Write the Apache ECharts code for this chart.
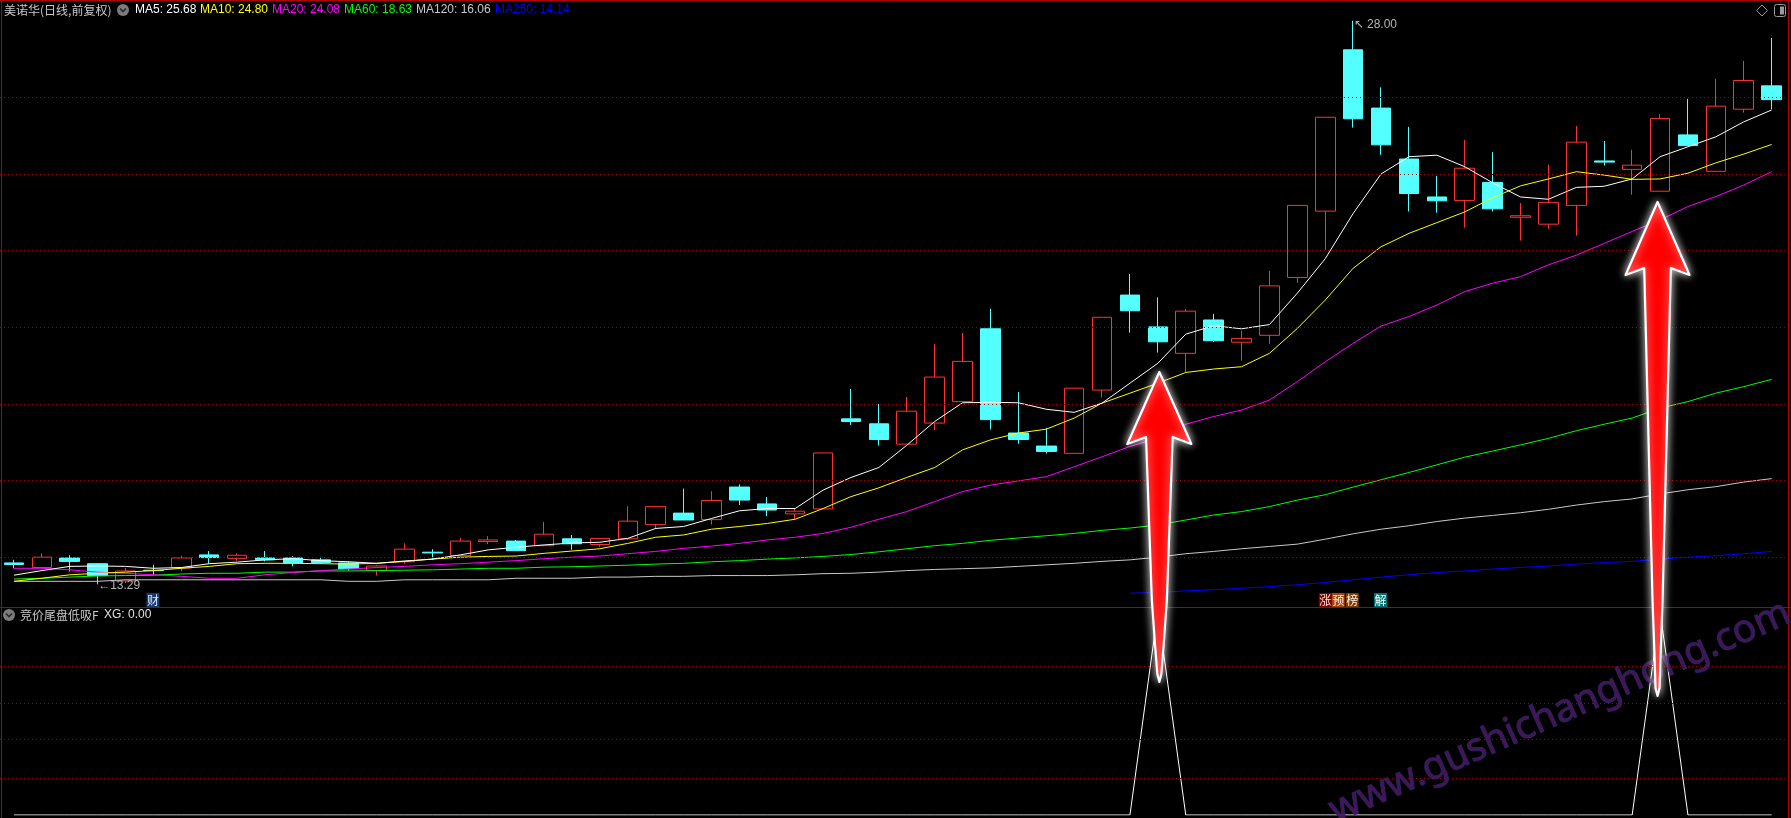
<!DOCTYPE html>
<html><head><meta charset="utf-8">
<script src="https://cdn.jsdelivr.net/npm/echarts@6/dist/echarts.min.js"></script>
<style>html,body{margin:0;padding:0;background:#000;overflow:hidden}#c{width:1791px;height:818px}</style>
</head><body><div id="c"></div>
<script>
// ---------- data ----------
const opens  = [13.85,13.73,13.98,13.83,13.38,13.66,13.72,14.06,13.97,13.98,13.98,13.93,13.85,13.65,13.88,14.13,
                14.04,14.41,14.42,14.30,14.48,14.33,14.48,14.85,15.15,14.98,15.83,15.39,15.13,15.26,17.61,17.48,
                16.95,17.50,18.06,19.96,17.24,16.90,16.71,18.36,20.84,20.01,19.32,20.19,19.61,19.79,21.30,23.03,
                27.24,25.72,24.39,23.40,23.31,23.78,22.87,22.69,23.18,24.34,24.12,23.55,25.02,24.07,25.69,26.30];
const closes = [13.81,14.00,13.89,13.52,13.64,13.65,13.98,13.99,14.05,13.93,13.85,13.86,13.70,13.77,14.21,14.11,
                14.42,14.45,14.17,14.60,14.35,14.49,14.94,15.32,14.97,15.48,15.49,15.23,15.20,16.72,17.54,17.07,
                17.81,18.70,19.11,17.59,17.07,16.76,18.41,20.26,20.43,19.62,20.42,19.65,19.71,21.08,23.18,25.48,
                25.44,24.76,23.49,23.30,24.15,23.09,22.91,23.26,24.83,24.31,24.23,25.45,24.74,25.77,26.44,25.94];
const lows   = [13.71,13.71,13.63,13.29,13.32,13.54,13.63,13.83,13.91,13.89,13.76,13.83,13.65,13.52,13.83,13.93,
                14.02,14.34,14.16,14.29,14.19,14.27,14.45,14.73,14.97,14.85,15.36,15.07,15.00,15.26,17.45,16.91,
                16.95,17.32,18.06,17.33,16.96,16.70,16.71,18.17,19.86,19.34,18.83,19.62,19.13,19.57,21.16,22.02,
                25.21,24.50,23.02,22.99,22.60,23.02,22.26,22.57,22.39,24.22,23.46,23.55,24.74,24.07,25.60,25.69];
const highs  = [13.93,14.10,14.05,13.85,13.72,13.80,14.04,14.16,14.10,14.16,14.03,14.01,13.89,13.80,14.36,14.21,
                14.50,14.55,14.45,14.92,14.58,14.49,15.33,15.32,15.79,15.72,15.90,15.57,15.27,16.72,18.39,18.00,
                18.18,19.56,19.85,20.48,18.31,17.37,18.41,20.26,21.39,20.78,20.47,20.35,19.91,21.47,23.18,25.48,
                28.00,26.26,25.23,23.95,24.89,24.57,23.24,24.24,25.25,24.86,24.63,25.56,25.96,26.48,26.95,27.55];

const ma5   = [13.53,13.65,13.76,13.77,13.76,13.71,13.73,13.83,13.87,13.93,13.96,13.91,13.88,13.84,13.90,13.95,
               14.06,14.19,14.26,14.32,14.37,14.39,14.49,14.75,14.80,15.01,15.21,15.27,15.27,15.75,16.08,16.34,
               16.92,17.54,18.03,18.04,18.03,17.86,17.78,18.02,18.54,19.06,19.82,20.04,19.96,20.07,20.89,21.79,
               22.97,24.00,24.45,24.49,24.19,23.77,23.40,23.34,23.65,23.68,23.87,24.45,24.71,24.97,25.36,25.67];
const ma10  = [13.37,13.45,13.54,13.58,13.61,13.65,13.71,13.76,13.83,13.84,13.84,13.83,13.82,13.84,13.89,13.95,
               14.00,14.02,14.03,14.10,14.16,14.22,14.36,14.52,14.58,14.73,14.80,14.88,14.99,15.27,15.58,15.81,
               16.08,16.34,16.80,17.06,17.24,17.34,17.63,18.02,18.28,18.54,18.82,18.91,18.97,19.32,19.97,20.71,
               21.54,22.10,22.45,22.73,23.01,23.38,23.69,23.87,24.06,23.97,23.86,23.87,24.02,24.29,24.52,24.77];
const ma20  = [13.71,13.71,13.67,13.61,13.58,13.54,13.50,13.45,13.45,13.54,13.60,13.65,13.69,13.73,13.76,13.80,
               13.83,13.87,13.91,13.96,14.00,14.03,14.09,14.15,14.23,14.29,14.36,14.45,14.52,14.62,14.78,14.99,
               15.19,15.45,15.71,15.88,15.99,16.10,16.36,16.62,16.89,17.10,17.47,17.67,17.84,18.10,18.58,19.10,
               19.58,20.03,20.28,20.58,20.93,21.15,21.32,21.63,21.88,22.19,22.50,22.80,23.15,23.41,23.71,24.06];
const ma60  = [13.43,13.45,13.48,13.51,13.52,13.53,13.56,13.58,13.58,13.61,13.61,13.64,13.64,13.65,13.66,13.67,
               13.69,13.71,13.71,13.74,13.75,13.77,13.79,13.82,13.84,13.88,13.91,13.95,13.98,14.02,14.07,14.14,
               14.22,14.30,14.36,14.44,14.50,14.56,14.62,14.70,14.76,14.84,14.97,15.10,15.19,15.32,15.49,15.63,
               15.83,16.02,16.21,16.41,16.61,16.77,16.93,17.10,17.30,17.47,17.63,17.89,18.06,18.28,18.45,18.64];
const ma120 = [13.37,13.37,13.37,13.37,13.41,13.41,13.41,13.41,13.41,13.41,13.41,13.41,13.37,13.37,13.41,13.41,
               13.41,13.41,13.45,13.45,13.45,13.48,13.48,13.50,13.50,13.52,13.52,13.52,13.54,13.57,13.58,13.61,
               13.65,13.68,13.70,13.72,13.76,13.80,13.84,13.89,13.93,14.00,14.09,14.15,14.22,14.28,14.34,14.47,
               14.61,14.73,14.82,14.93,15.02,15.09,15.16,15.25,15.36,15.45,15.52,15.65,15.76,15.84,15.96,16.05];
const ma250 = ['-','-','-','-','-','-','-','-','-','-','-','-','-','-','-','-',
               '-','-','-','-','-','-','-','-','-','-','-','-','-','-','-','-',
               '-','-','-','-','-','-','-','-',13.06,13.08,13.12,13.15,13.19,13.23,13.28,13.34,
               13.41,13.48,13.54,13.60,13.64,13.69,13.73,13.77,13.82,13.86,13.89,13.95,14.00,14.04,14.09,14.15];
const xg    = [0,0,0,0,0,0,0,0,0,0,0,0,0,0,0,0, 0,0,0,0,0,0,0,0,0,0,0,0,0,0,0,0,
               0,0,0,0,0,0,0,0,0,1,0,0,0,0,0,0, 0,0,0,0,0,0,0,0,0,0,0,1,0,0,0,0];

const priceGridLevels = [14,16,18,20,22,24,26];
const subGridLevels   = [0.18,0.366,0.553,0.734];
const lowMark  = {idx:3,  value:13.29};
const highMark = {idx:48, value:28.00};
const legendItems = [
  {text:'MA5: 25.68',   color:'#ffffff'},
  {text:'MA10: 24.80',  color:'#ffff00'},
  {text:'MA20: 24.08',  color:'#ff00ff'},
  {text:'MA60: 18.63',  color:'#00ff00'},
  {text:'MA120: 16.06', color:'#c8c8c8'},
  {text:'MA250: 14.14', color:'#0000ff'}
];
const categories = opens.map((_, i) => 'D' + (i + 1));
const signalIdx = [41, 59];

// ---------- chart ----------
const NUM = '"Liberation Sans", Arial, sans-serif';
const CJK = '"Noto Sans CJK SC", sans-serif';
const chart = echarts.init(document.getElementById('c'), null, {renderer:'canvas'});

function maSeries(data, color) {
  return {type:'line', data, xAxisIndex:0, yAxisIndex:0, symbol:'none', silent:true, z:3,
          lineStyle:{color, width:1}, connectNulls:false, animation:false};
}

const option = {
  backgroundColor:'#000000',
  animation:false,
  grid:[{left:0, right:5.4, top:0, height:607}, {left:0, right:5.4, top:607, height:208}],
  xAxis:[
    {type:'category', data:categories, gridIndex:0, show:false, boundaryGap:true},
    {type:'category', data:categories, gridIndex:1, show:false, boundaryGap:true}
  ],
  yAxis:[
    {type:'value', gridIndex:0, min:12.70, max:28.54, show:false, splitLine:{show:false}},
    {type:'value', gridIndex:1, min:0, max:1.02, show:false, splitLine:{show:false}}
  ],
  series:[
    {
      type:'candlestick', xAxisIndex:0, yAxisIndex:0, z:2, silent:true,
      data: opens.map((o, i) => [o, closes[i], lows[i], highs[i]]),
      barWidth:20,
      itemStyle:{color:'#000000', color0:'#54ffff', borderColor:'#ff3232', borderColor0:'#54ffff', borderWidth:1},
      markLine:{silent:true, symbol:['none','none'], animation:false, label:{show:false},
        lineStyle:{color:'#a00000', type:[1,3], width:1},
        data: priceGridLevels.map(v => ({yAxis:v}))},
      markPoint:{silent:true, animation:false, symbol:'circle', symbolSize:1,
        itemStyle:{color:'rgba(0,0,0,0)'},
        data:[
          {coord:[lowMark.idx, lowMark.value], label:{show:true, position:'right', distance:0, offset:[0,1],
            formatter:'\u2190' + lowMark.value.toFixed(2), color:'#b4b4b4', fontSize:12, fontFamily:NUM}},
          {coord:[highMark.idx, highMark.value], label:{show:true, position:'right', distance:0, offset:[0,4],
            formatter:'\u2196 ' + highMark.value.toFixed(2), color:'#b4b4b4', fontSize:12, fontFamily:NUM}}
        ]}
    },
    maSeries(ma120, '#c8c8c8'),
    maSeries(ma250, '#0000ff'),
    maSeries(ma60, '#00ff00'),
    maSeries(ma20, '#ff00ff'),
    maSeries(ma10, '#ffff00'),
    maSeries(ma5, '#ffffff'),
    {
      type:'line', data:xg, xAxisIndex:1, yAxisIndex:1, symbol:'none', silent:true, z:3,
      lineStyle:{color:'#ffffff', width:1},
      markLine:{silent:true, symbol:['none','none'], animation:false, label:{show:false},
        lineStyle:{color:'#a00000', type:[1,3], width:1},
        data: subGridLevels.map(v => ({yAxis:v}))}
    }
  ]
};
chart.setOption(option);

// ---------- decorations ----------
const px = k => chart.convertToPixel({xAxisIndex:0}, categories[k]);
const g = [];
// frame
const frameColor = '#b00000';
g.push({type:'line', shape:{x1:0, y1:0.5, x2:1791, y2:0.5}, style:{stroke:frameColor, lineWidth:1}, z:50});
g.push({type:'line', shape:{x1:1.5, y1:0, x2:1.5, y2:818}, style:{stroke:frameColor, lineWidth:1}, z:50});
g.push({type:'line', shape:{x1:1788.5, y1:0, x2:1788.5, y2:818}, style:{stroke:frameColor, lineWidth:1}, z:50});
g.push({type:'line', shape:{x1:0, y1:607.5, x2:1791, y2:607.5}, style:{stroke:frameColor, lineWidth:1}, z:50});

// title & legend
g.push({type:'text', x:4, y:10, style:{text:'美诺华(日线,前复权)', fill:'#c8c8c8', font:'12px ' + CJK, textVerticalAlign:'middle'}, z:60});
function circleIcon(cx, cy) {
  g.push({type:'circle', shape:{cx, cy, r:6}, style:{fill:'#7c7c7c'}, z:60});
  g.push({type:'polyline', shape:{points:[[cx-3, cy-1.5],[cx, cy+1.5],[cx+3, cy-1.5]]}, style:{stroke:'#2a2a2a', lineWidth:1.6, fill:null}, z:61});
}
circleIcon(123, 10);
const legendX = [135, 200, 272, 344, 416, 495];
legendItems.forEach((it, i) => {
  g.push({type:'text', x:legendX[i], y:10, style:{text:it.text, fill:it.color, font:'12px ' + NUM, textVerticalAlign:'middle'}, z:60});
});
// top-right icons
g.push({type:'polygon', shape:{points:[[1762,5],[1767.5,10.5],[1762,16],[1756.5,10.5]]}, style:{stroke:'#9a9a9a', fill:null, lineWidth:1}, z:60});
g.push({type:'rect', shape:{x:1774.5, y:4.5, width:11, height:12, r:2}, style:{stroke:'#9a9a9a', fill:null, lineWidth:1}, z:60});
g.push({type:'rect', shape:{x:1780, y:6.5, width:4, height:8}, style:{fill:'#9a9a9a'}, z:60});

// sub panel label
circleIcon(9, 615);
g.push({type:'text', x:20, y:615, style:{text:'竞价尾盘低吸F', fill:'#c8c8c8', font:'12px ' + CJK, textVerticalAlign:'middle'}, z:60});
g.push({type:'text', x:104, y:615, style:{text:'XG: 0.00', fill:'#e0e0e0', font:'12px ' + NUM, textVerticalAlign:'middle'}, z:60});

// badges
function badge(x, text, bg, fg) {
  g.push({type:'rect', shape:{x:x, y:593, width:13, height:14}, style:{fill:bg}, z:55});
  g.push({type:'text', x:x + 6.5, y:600, style:{text, fill:fg, font:'12px ' + CJK, textAlign:'center', textVerticalAlign:'middle'}, z:56});
}
badge(px(5) - 7, '财', '#17396b', '#d6e6ff');
badge(px(47) - 6.5, '涨', '#7a0000', '#ffe0d0');
badge(px(47) + 6.5, '预', '#a8420c', '#fff0e0');
badge(px(47) + 20.5, '榜', '#7a3a08', '#fff0e0');
badge(px(49) - 7, '解', '#007272', '#e8ffff');

// watermark
g.push({type:'text', x:1560, y:712, rotation:0.415,
  style:{text:'www.gushichanghong.com', fill:'rgba(72,26,92,0.9)', stroke:'rgba(38,38,115,0.9)', lineWidth:1,
         font:'39px "Noto Sans", sans-serif', textAlign:'center', textVerticalAlign:'middle'}, z:70});

// arrows
function arrow(cx, tipY, wingY, shaftY, midY, midHW, bottomY) {
  const pts = [
    [cx, tipY], [cx + 32, wingY], [cx + 13.3, shaftY], [cx + midHW, midY],
    [cx + midHW * 0.6, bottomY - 40], [cx + 2, bottomY - 8], [cx, bottomY],
    [cx - 2, bottomY - 8], [cx - midHW * 0.6, bottomY - 40], [cx - midHW, midY],
    [cx - 13.3, shaftY], [cx - 32, wingY]
  ];
  g.push({type:'polygon', shape:{points:pts},
    style:{fill:'#ff0000', stroke:'#ffffff', lineWidth:2.2, lineJoin:'round', shadowBlur:8, shadowColor:'rgba(255,255,255,0.85)'}, z:80});
}
arrow(px(signalIdx[0]) + 1.5, 372, 444, 437, 600, 7.5, 682);
arrow(px(signalIdx[1]) - 2.5, 202, 275, 268, 600, 5, 696);

chart.setOption({graphic:{elements:g}});
</script>
</body></html>
